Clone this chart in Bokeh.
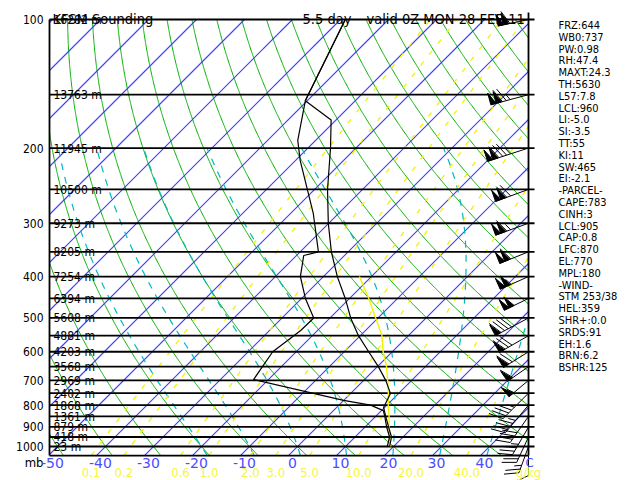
import numpy as np
from bokeh.plotting import figure
from bokeh.models import Range1d
from bokeh.core.properties import value
from bokeh.embed import file_html
from bokeh.resources import INLINE

# ---------------- data ----------------
title_left = "KFSM Sounding"
title_fcst = "5.5 day"
title_valid = "valid 0Z MON 28 FEB 11"

isobars = [100, 150, 200, 250, 300, 350, 400, 450, 500, 550, 600, 650, 700,
           750, 800, 850, 900, 950, 1000]
heights_m = [16282, 13763, 11945, 10500, 9273, 8205, 7254, 6394, 5608, 4881,
             4203, 3568, 2969, 2402, 1868, 1361, 879, 418, 23]
pressure_ticks = [100, 200, 300, 400, 500, 600, 700, 800, 900, 1000]
temp_ticks = [-50, -40, -30, -20, -10, 0, 10, 20, 30, 40]
mixing_ratios = [0.1, 0.2, 0.6, 1.0, 2.0, 3.0, 5.0, 10.0, 20.0, 40.0]
mixing_labels = ["0.1", "0.2", "0.6", "1.0", "2.0", "3.0", "5.0", "10.0", "20.0", "40.0"]
dry_adiabats_c = list(range(-60, 200, 10))
moist_adiabats_c = [-20, -10, 0, 10, 20, 30, 40]
isotherms_c = list(range(-150, 60, 10))

temp_p = [1000, 950, 900, 850, 810, 751, 700, 650, 600, 550, 500, 450, 400,
          350, 300, 250, 200, 172, 155, 100]
temp_c = [19.2, 17.6, 14.9, 12.1, 9.8, 8.3, 4.6, 0.2, -4.9, -10.4, -15.7,
          -20.9, -27.1, -33.5, -40.1, -47.3, -55.3, -61.0, -70.4, -79.0]
dwpt_p = [1000, 950, 900, 850, 824, 800, 780, 697, 600, 535, 500, 450, 400,
          357, 350, 285, 214, 192, 155, 100]
dwpt_c = [18.7, 17.2, 14.5, 11.9, 10.4, 6.6, 0.0, -23.1, -24.9, -23.5, -23.4,
          -29.2, -34.8, -38.5, -36.2, -45.2, -59.0, -63.7, -70.4, -79.0]
parcel_p = [1000, 950, 900, 850, 800, 750, 700, 650, 600, 550, 500, 450, 400]
parcel_c = [19.4, 17.2, 15.0, 12.8, 10.3, 7.8, 5.0, 1.9, -1.9, -5.5, -10.5,
            -16.0, -22.5]

wind_p = [100, 150, 200, 250, 300, 350, 400, 450, 500, 550, 600, 650, 700,
          750, 800, 850, 900, 950, 1000, 1050]
wind_dir = [258, 255, 252, 250, 250, 248, 246, 244, 242, 240, 238, 235, 230,
            225, 220, 215, 210, 205, 200, 180]
wind_kt = [110, 125, 135, 120, 115, 110, 105, 100, 90, 80, 70, 60, 55,
           45, 45, 40, 35, 30, 25, 10]

index_lines = ["FRZ:644", "WB0:737", "PW:0.98", "RH:47.4", "MAXT:24.3",
               "TH:5630", "L57:7.8", "LCL:960", "LI:-5.0", "SI:-3.5", "TT:55",
               "KI:11", "SW:465", "EI:-2.1", "-PARCEL-", "CAPE:783", "CINH:3",
               "LCL:905", "CAP:0.8", "LFC:870", "EL:770", "MPL:180", "-WIND-",
               "STM 253/38", "HEL:359", "SHR+:0.0", "SRDS:91", "EH:1.6",
               "BRN:6.2", "BSHR:125"]

# ---------------- layout constants ----------------
W, H = 640, 480
FX0 = 297.0          # px of 0 C at 1000 mb
PX_PER_C = 4.8
FY100 = 19.0         # px of 100 mb
PX_PER_DEC = 427.0
K = PX_PER_DEC / PX_PER_C

COND = value("DejaVu Sans Condensed, Liberation Sans, sans-serif")
SANS = value("DejaVu Sans")

BLUE_LINE = "#3c3cff"
BLUE_TXT = "#4c4cff"
GREEN = "#00b000"
CYAN = "#00b8c0"
YELLOW = "#f2f200"
YELLOW_TXT = "#f5f540"


def X_of_px(fx):
    return (fx - FX0) / PX_PER_C


def P_of_px(fy):
    return 10 ** (2 + (fy - FY100) / PX_PER_DEC)


def py_of_P(pp):
    return FY100 + PX_PER_DEC * (np.log10(pp) - 2)


def skew(T, pp):
    return np.asarray(T, float) + K * np.log10(1000.0 / np.asarray(pp, float))


XL = X_of_px(49)
XR = X_of_px(528)
LT = 2.0
LB = np.log10(1050.0)


def clip_seg(x0, y0, x1, y1, box):
    xmin, xmax, ymin, ymax = box
    dx, dy = x1 - x0, y1 - y0
    t0, t1 = 0.0, 1.0
    for pk, qk in ((-dx, x0 - xmin), (dx, xmax - x0), (-dy, y0 - ymin), (dy, ymax - y0)):
        if pk == 0:
            if qk < 0:
                return None
        else:
            r = qk / pk
            if pk < 0:
                if r > t1:
                    return None
                t0 = max(t0, r)
            else:
                if r < t0:
                    return None
                t1 = min(t1, r)
    return t0, t1


def clip_poly(xs, ls, box=(XL, XR, LT, LB)):
    out, cur = [], None
    for i in range(len(xs) - 1):
        x0, y0, x1, y1 = xs[i], ls[i], xs[i + 1], ls[i + 1]
        res = clip_seg(x0, y0, x1, y1, box)
        if res is None:
            if cur:
                out.append(cur)
            cur = None
            continue
        t0, t1 = res
        a = (x0 + t0 * (x1 - x0), y0 + t0 * (y1 - y0))
        b = (x0 + t1 * (x1 - x0), y0 + t1 * (y1 - y0))
        if cur is None or t0 > 0:
            if cur:
                out.append(cur)
            cur = [a]
        cur.append(b)
        if t1 < 1:
            out.append(cur)
            cur = None
    if cur:
        out.append(cur)
    return out


def add_lines(store, xs, pp, box=(XL, XR, LT, LB)):
    for seg in clip_poly(list(xs), list(np.log10(pp)), box):
        store[0].append([s[0] for s in seg])
        store[1].append([10 ** s[1] for s in seg])


p = figure(width=W, height=H,
           x_range=Range1d(X_of_px(0), X_of_px(W)),
           y_range=Range1d(P_of_px(H), P_of_px(0)),
           y_axis_type="log", x_axis_location=None, y_axis_location=None,
           toolbar_location=None, output_backend="svg", min_border=0)
p.outline_line_color = None
p.background_fill_color = "white"
p.border_fill_color = "white"
p.grid.visible = False

pdense = np.logspace(np.log10(1050), 2, 400)

# dry adiabats
dry = ([], [])
for th in dry_adiabats_c:
    T = (th + 273.15) * (pdense / 1000.0) ** 0.2857 - 273.15
    add_lines(dry, skew(T, pdense), pdense)
p.multi_line(dry[0], dry[1], line_color=GREEN, line_width=1)

# isotherms (straight lines -> segments)
iso = ([], [])
for T in isotherms_c:
    add_lines(iso, skew([T, T], [1050, 100]), np.array([1050.0, 100.0]))
p.segment(x0=[s[0] for s in iso[0]], y0=[s[0] for s in iso[1]],
          x1=[s[-1] for s in iso[0]], y1=[s[-1] for s in iso[1]],
          line_color=BLUE_LINE, line_width=1.1)


# moist adiabats (pseudo-adiabatic reference lines)
def dTdp(TK, pp):
    Tc = TK - 273.15
    es = 6.112 * np.exp(17.67 * Tc / (Tc + 243.5))
    rs = 0.622 * es / (pp - es)
    Rd, cp, Lv = 287.04, 1005.7, 2.501e6
    return (Rd * TK + Lv * rs) / (pp * (cp + Lv * Lv * rs * 0.622 / (Rd * TK * TK)))


def integrate(T0, p0, p1, dp):
    ps = [p0]
    Ts = [T0]
    TK, pc = T0 + 273.15, p0
    n = int(abs(p1 - p0) / abs(dp))
    for _ in range(n):
        k1 = dTdp(TK, pc)
        k2 = dTdp(TK + 0.5 * dp * k1, pc + 0.5 * dp)
        k3 = dTdp(TK + 0.5 * dp * k2, pc + 0.5 * dp)
        k4 = dTdp(TK + dp * k3, pc + dp)
        TK += dp * (k1 + 2 * k2 + 2 * k3 + k4) / 6
        pc += dp
        ps.append(pc)
        Ts.append(TK - 273.15)
    return np.array(ps), np.array(Ts)


moist = ([], [])
for tw in moist_adiabats_c:
    pu, Tu = integrate(tw, 1000.0, 200.0, -2.0)
    pd, Td_ = integrate(tw, 1000.0, 1050.0, 2.0)
    pp = np.concatenate([pd[::-1], pu[1:]])
    TT = np.concatenate([Td_[::-1], Tu[1:]])
    add_lines(moist, skew(TT, pp), pp)
p.multi_line(moist[0], moist[1], line_color=CYAN, line_width=1.2, line_dash="7 7")

# mixing ratio lines
mix = ([], [])
for w in mixing_ratios:
    e = w * pdense / (622.0 + w)
    lg = np.log(e / 6.112)
    Tdw = 243.5 * lg / (17.67 - lg)
    add_lines(mix, skew(Tdw, pdense), pdense)
p.multi_line(mix[0], mix[1], line_color=YELLOW, line_width=1.3, line_dash="5 9")

# isobars
p.segment(x0=[XL] * len(isobars), y0=isobars, x1=[XR + 6 / PX_PER_C] * len(isobars),
          y1=isobars, line_color="black", line_width=1.8)
# frame
p.segment(x0=[XL, XL, XR], y0=[1050, 1050, 1050], x1=[XR, XL, XR],
          y1=[1050, 100, P_of_px(12)], line_color="black", line_width=1.8)

# profiles
p.line(skew(parcel_c, parcel_p), parcel_p, line_color=YELLOW, line_width=1.4)
p.line(skew(dwpt_c, dwpt_p), dwpt_p, line_color="black", line_width=1.2)
p.line(skew(temp_c, temp_p), temp_p, line_color="black", line_width=1.2)


# wind barbs
def barb_geom(pl, ddeg, spd, fxs):
    segs, tris = [], []
    fys = py_of_P(pl)
    d = np.radians(ddeg)
    ux, uy = np.sin(d), -np.cos(d)
    qx, qy = -uy, ux
    s5 = int(5 * round(spd / 5.0))
    nflag = s5 // 50
    r = s5 - 50 * nflag
    nfull = r // 10
    nhalf = 1 if r % 10 >= 5 else 0
    L = 16 + 5.5 * nflag + 4 * (nfull + nhalf)
    tx, ty = fxs + L * ux, fys + L * uy
    segs.append(((fxs, fys), (tx, ty)))
    pos = 0.0
    ca, sa = np.cos(np.radians(25)), np.sin(np.radians(25))
    for _ in range(nflag):
        a = (tx - pos * ux, ty - pos * uy)
        b = (tx - (pos + 5.5) * ux, ty - (pos + 5.5) * uy)
        apex = (a[0] + 12 * qx, a[1] + 12 * qy)
        tris.append([a, apex, b])
        pos += 5.5
    if nflag:
        pos += 1.0
    for _ in range(nfull):
        c = (tx - pos * ux, ty - pos * uy)
        e = (c[0] + 15 * (qx * ca + ux * sa), c[1] + 15 * (qy * ca + uy * sa))
        segs.append((c, e))
        pos += 4
    if nhalf:
        if nflag == 0 and nfull == 0:
            pos += 4
        c = (tx - pos * ux, ty - pos * uy)
        e = (c[0] + 7.5 * (qx * ca + ux * sa), c[1] + 7.5 * (qy * ca + uy * sa))
        segs.append((c, e))
    return segs, tris


bx0, by0, bx1, by1, txs, tys = [], [], [], [], [], []
for pl, dd, sp in zip(wind_p, wind_dir, wind_kt):
    segs, tris = barb_geom(pl, dd, sp, 528.0)
    for (a, b) in segs:
        bx0.append(X_of_px(a[0])); by0.append(P_of_px(a[1]))
        bx1.append(X_of_px(b[0])); by1.append(P_of_px(b[1]))
    for tri in tris:
        txs.append([X_of_px(v[0]) for v in tri])
        tys.append([P_of_px(v[1]) for v in tri])
p.segment(bx0, by0, bx1, by1, line_color="black", line_width=1)
p.patches(txs, tys, fill_color="black", line_color="black", line_width=1)


# ---------------- texts ----------------
def txt(fx, fy, s, size, color="black", align="left", baseline="middle", font=COND):
    p.text(x=[X_of_px(fx)], y=[P_of_px(fy)], text=[s], text_font=font,
           text_font_size=size, text_color=color, text_align=align,
           text_baseline=baseline)


txt(52, 18.5, title_left, "14.5px", baseline="alphabetic")
txt(302, 18.5, title_fcst, "14.5px", baseline="alphabetic")
txt(366, 18.5, title_valid, "14.5px", baseline="alphabetic")

for pl in pressure_ticks:
    txt(43, py_of_P(pl), str(pl), "12px", align="right")
for pl, h in zip(isobars, heights_m):
    txt(53, py_of_P(pl) + 0.5, f"{h} m", "12px")

txt(43, 462, "mb", "13px", align="right")
for T in temp_ticks:
    fx = FX0 + PX_PER_C * float(skew(T, 1050)) + 4
    txt(fx, 462, str(T), "14px", color=BLUE_TXT, align="center", font=SANS)
txt(529, 462, "C", "13px", color=BLUE_TXT, align="center")

for w, lab in zip(mixing_ratios, mixing_labels):
    e = w * 1050 / (622.0 + w)
    lg = np.log(e / 6.112)
    Tdw = 243.5 * lg / (17.67 - lg)
    fx = FX0 + PX_PER_C * float(skew(Tdw, 1050))
    txt(fx, 472, lab, "13px", color=YELLOW_TXT, align="center")
txt(528, 472, "g/kg", "13px", color=YELLOW_TXT, align="center")

for i, s in enumerate(index_lines):
    txt(558, 25 + i * 11.8, s, "11px")

open("out.html", "w").write(file_html(p, INLINE))
